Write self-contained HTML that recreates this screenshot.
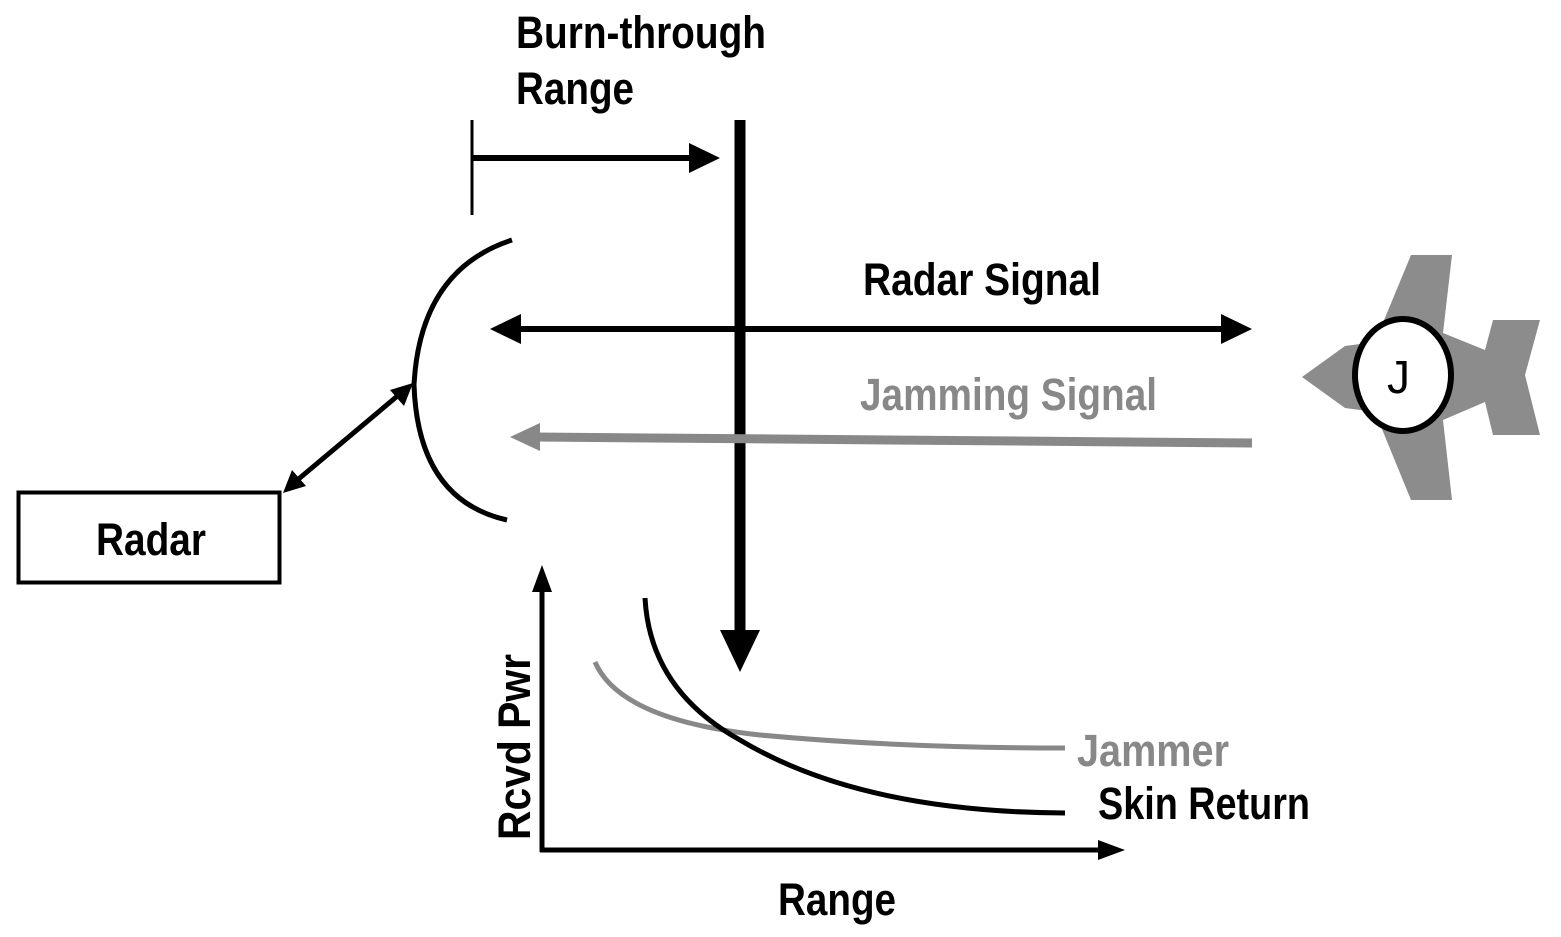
<!DOCTYPE html>
<html><head><style>html,body{margin:0;padding:0;background:#fff;}svg{display:block}</style></head>
<body>
<svg width="1561" height="937" viewBox="0 0 1561 937" xmlns="http://www.w3.org/2000/svg" font-family="Liberation Sans, sans-serif" font-size="45" font-weight="bold">
<!-- texts -->
<text x="516" y="48" textLength="250" lengthAdjust="spacingAndGlyphs">Burn-through</text>
<text x="516" y="104" textLength="118" lengthAdjust="spacingAndGlyphs">Range</text>
<text x="863" y="295" textLength="238" lengthAdjust="spacingAndGlyphs">Radar Signal</text>
<text x="860" y="410" fill="#888" textLength="297" lengthAdjust="spacingAndGlyphs">Jamming Signal</text>
<text x="96" y="555" textLength="110" lengthAdjust="spacingAndGlyphs">Radar</text>
<text x="1077" y="766" fill="#888" textLength="152" lengthAdjust="spacingAndGlyphs">Jammer</text>
<text x="1098" y="819" textLength="212" lengthAdjust="spacingAndGlyphs">Skin Return</text>
<text x="778" y="915" textLength="118" lengthAdjust="spacingAndGlyphs">Range</text>
<text transform="translate(530,840) rotate(-90)" textLength="186" lengthAdjust="spacingAndGlyphs">Rcvd Pwr</text>

<!-- burn-through tick + arrow -->
<line x1="472" y1="120" x2="472" y2="215" stroke="#000" stroke-width="3"/>
<line x1="472" y1="158" x2="695" y2="158" stroke="#000" stroke-width="6"/>
<path d="M689,143 L720,158 L689,173 z"/>
<!-- big vertical -->
<line x1="740" y1="120" x2="740" y2="640" stroke="#000" stroke-width="11"/>
<path d="M720,630 L760,630 L740,672 z"/>
<!-- dish -->
<path d="M512,240 Q420,270 414,385 Q418,500 507,520" fill="none" stroke="#000" stroke-width="5"/>
<!-- radar signal -->
<line x1="515" y1="329" x2="1225" y2="329" stroke="#000" stroke-width="6"/>
<path d="M490,329 L521,314 L521,344 z"/>
<path d="M1252,329 L1221,314 L1221,344 z"/>
<!-- jamming -->
<line x1="535" y1="437" x2="1252" y2="443" stroke="#888" stroke-width="9"/>
<path d="M510,437 L540,423 L540,451 z" fill="#888"/>
<!-- radar box -->
<rect x="18.5" y="492.5" width="261" height="90" fill="none" stroke="#000" stroke-width="4"/>
<!-- diag double arrow -->
<line x1="295" y1="482" x2="401" y2="393" stroke="#000" stroke-width="5"/>
<path d="M283,493 L292,470 L306,486 z"/>
<path d="M413,383 L404,406 L390,390 z"/>
<!-- axes -->
<line x1="542" y1="590" x2="542" y2="852" stroke="#000" stroke-width="5"/>
<path d="M542,565 L532,592 L552,592 z"/>
<line x1="540" y1="850" x2="1100" y2="850" stroke="#000" stroke-width="5"/>
<path d="M1125,850 L1098,840 L1098,860 z"/>
<!-- curves -->
<path d="M595,662 Q620,720 760,735 Q900,748 1065,748" fill="none" stroke="#888" stroke-width="5"/>
<path d="M645,598 Q650,690 740,740 Q860,812 1065,813" fill="none" stroke="#000" stroke-width="5"/>
<!-- plane -->
<path d="M1302,377 L1345,346 L1375,342 L1411,255 L1452,255 L1443,333 L1485,350 L1493,320 L1540,320 L1525,375 L1540,435 L1493,435 L1485,402 L1443,420 L1452,500 L1411,500 L1375,412 L1345,408 z" fill="#8c8c8c"/>
<ellipse cx="1403" cy="375" rx="48" ry="56" fill="#fff" stroke="#000" stroke-width="6"/>
<text x="1387" y="393" font-size="46" font-weight="normal">J</text>
</svg>
</body></html>
